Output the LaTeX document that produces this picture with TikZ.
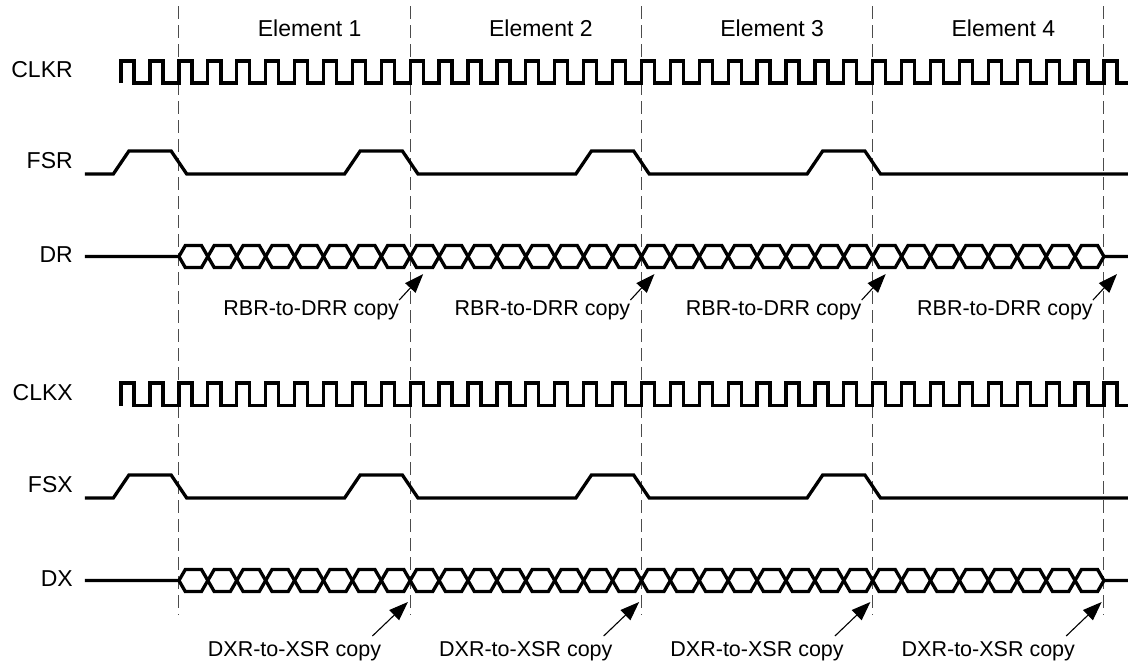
\documentclass[tikz,border=0pt]{standalone}
\usepackage{fontspec}
\setmainfont{Liberation Sans}
\usetikzlibrary{arrows.meta}
\tikzset{
	wave/.style={line width=3.3pt, black},
	guide/.style={line width=1pt, black!70, dash pattern=on 13pt off 6pt},
	siglbl/.style={anchor=east, inner sep=0pt, font=\fontsize{23}{27}\selectfont},
	elemlbl/.style={inner sep=0pt, font=\fontsize{23}{27}\selectfont},
	copylbl/.style={inner sep=0pt, font=\fontsize{21.5}{25}\selectfont},
	copyarrow/.style={line width=1.1pt, -{Triangle[length=19pt,width=14pt]}}
}
\def\clocktrain(#1:#2){\draw[wave] (-2,#2) \foreach \k in {-2,...,31}{ -- (\k,#1) -- (\k+0.45,#1) -- (\k+0.45,#2) -- (\k+1,#2)} -- (32,#1) -- (32.45,#1) -- (32.45,#2) -- (32.83,#2);}
\def\framesync(#1:#2){\draw[wave] (-3.25,#2) \foreach \r in {-2,6,14,22}{ -- (\r-0.27,#2) -- (\r+0.27,#1) -- (\r+1.73,#1) -- (\r+2.27,#2)} -- (32.83,#2);}
\def\databus(#1:#2:#3){
	\draw[wave] (-3.25,#2) -- (0,#2) \foreach \k in {0,2,...,30}{ -- (\k+0.22,#1) -- (\k+0.78,#1) -- (\k+1.22,#3) -- (\k+1.78,#3)} -- (32,#2) -- (32.83,#2);
	\draw[wave] (0,#2) \foreach \k in {0,2,...,30}{ -- (\k+0.22,#3) -- (\k+0.78,#3) -- (\k+1.22,#1) -- (\k+1.78,#1)} -- (32,#2);
}

\begin{document}
\begin{tikzpicture}[x=28.906pt, y=-1pt]
	%%%%% START %%%%%
	\useasboundingbox (-6.19,0) rectangle (32.97,662);
	
	\foreach \b in {0,8,16,24,32}
		\draw[guide] (\b,6) -- (\b,615);
	
	\foreach \i in {1,...,4}
		\node[elemlbl] (el\i) at ({8*\i-3.48},28) {Element \i};
	
	\node[siglbl] (clkr) at (-3.667,70) {CLKR};
	\node[siglbl] (fsr) at (-3.667,161) {FSR};
	\node[siglbl] (dr) at (-3.667,255) {DR};
	\node[siglbl] (clkx) at (-3.667,393) {CLKX};
	\node[siglbl] (fsx) at (-3.667,485) {FSX};
	\node[siglbl] (dx) at (-3.667,579) {DX};
	
	\clocktrain(61:83)
	\framesync(151:174)
	\databus(245.5:256.5:267.5)
	
	\clocktrain(383:405.5)
	\framesync(475:498)
	\databus(569.5:580.5:591.5)
	
	%%%%% COPY MARKS %%%%%
	\foreach \i in {1,...,4}{
		\coordinate (rt\i) at ({8*\i+0.45},274);
		\node[copylbl, anchor=north east] (rc\i) at ({8*\i-0.38},300) {RBR-to-DRR copy};
		\draw[copyarrow] (rc\i.north east) -- (rt\i);
		
		\coordinate (xt\i) at ({8*\i-0.08},602);
		\node[copylbl, anchor=north] (xc\i) at ({8*\i-4},641) {DXR-to-XSR copy};
		\draw[copyarrow] ([xshift=-9pt,yshift=5pt]xc\i.north east) -- (xt\i);
	}
	%%%%% END %%%%%
\end{tikzpicture}
\end{document}
